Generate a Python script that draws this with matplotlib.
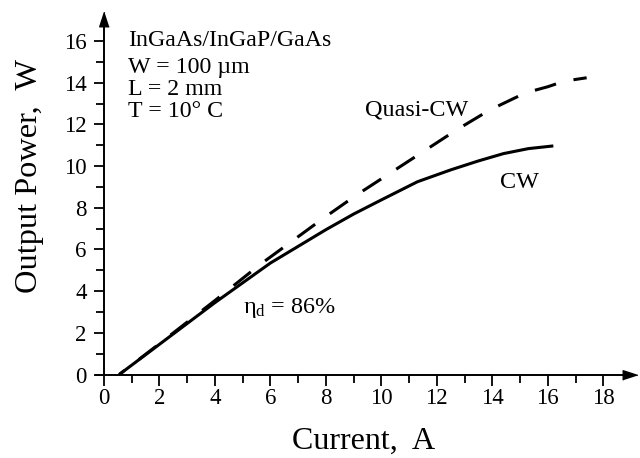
import matplotlib
matplotlib.use("Agg")
import matplotlib.pyplot as plt

plt.rcParams['font.family'] = ['Liberation Serif', 'DejaVu Serif']
plt.rcParams['mathtext.fontset'] = 'custom'
plt.rcParams['mathtext.rm'] = 'Liberation Serif'
plt.rcParams['mathtext.it'] = 'Liberation Serif:italic'

# CW curve (solid)
cw_current = [0.55, 2.0, 4.0, 6.0, 7.0, 8.0, 9.0, 10.0, 11.3, 12.5, 13.5, 14.4, 15.3, 16.2]
cw_power = [0.0, 1.45, 3.45, 5.35, 6.15, 6.95, 7.7, 8.38, 9.25, 9.82, 10.25, 10.6, 10.84, 10.97]

# quasi-CW curve (dashed)
qcw_current = [0.55, 2.0, 4.0, 5.6, 6.8, 7.9, 9.1, 10.3, 11.5, 12.7, 13.9, 15.2, 16.0, 16.6, 17.4]
qcw_power = [0.0, 1.48, 3.55, 5.25, 6.42, 7.49, 8.61, 9.65, 10.69, 11.73, 12.69, 13.52, 13.81, 14.08, 14.24]

x_ticks = list(range(0, 19, 2))
y_ticks = list(range(0, 17, 2))

info_lines = ["InGaAs/InGaP/GaAs", "W = 100 \u00b5m", "L = 2 mm", "T = 10\u00b0 C"]

fig = plt.figure(figsize=(6.4, 4.58), dpi=100)
ax = fig.add_axes([0.1495, 0.1823, 0.8356, 0.7762])

x_max = 18.98
y_max = 17.06
ax.set_xlim(-0.3, x_max)
ax.set_ylim(0, y_max)

lw = 2.2
ax.plot(cw_current, cw_power, color='black', lw=lw, solid_capstyle='butt')
ax.plot(qcw_current, qcw_power, color='black', lw=lw, linestyle=(5.0, (7.2, 5.9)))

for s in ['top', 'right']:
    ax.spines[s].set_visible(False)
ax.spines['left'].set_position(('data', 0))
ax.spines['bottom'].set_position(('data', 0))
ax.spines['left'].set_linewidth(1.4)
ax.spines['bottom'].set_linewidth(1.4)

# arrow heads
up = [(0, 1), (-0.65, -1), (0.65, -1)]
right = [(1, 0), (-1, 0.65), (-1, -0.65)]
ax.plot([0], [y_max], marker=up, ms=10.5, color='black', clip_on=False)
ax.plot([x_max], [0], marker=right, ms=10.5, color='black', clip_on=False)

ax.set_xticks(x_ticks)
ax.set_yticks(y_ticks)
ax.set_xticks([t for t in range(1, 18, 2)], minor=True)
ax.set_yticks([t for t in range(1, 16, 2)], minor=True)
ax.tick_params(axis='x', which='major', direction='out', length=7.9, width=1.3, pad=2, labelsize=16.5)
ax.tick_params(axis='x', which='minor', direction='out', length=5.8, width=1.3)
ax.tick_params(axis='y', which='major', direction='out', length=7.5, width=1.3, pad=5, labelsize=16.5)
ax.tick_params(axis='y', which='minor', direction='out', length=6.0, width=1.3)

ax.set_xlabel("Current,  A", fontsize=23)
ax.set_ylabel("Output Power,  W", fontsize=23.3)
ax.xaxis.set_label_coords(0.5, -0.148)
ax.yaxis.set_label_coords(-0.097, 0.557)

# parameter block
info_y = [15.76, 14.47, 13.41, 12.36]
for txt, yy in zip(info_lines, info_y):
    ax.text(0.865, yy, txt, fontsize=17.2, va='baseline', ha='left')

ax.text(9.41, 12.45, "Quasi-CW", fontsize=17.4, va='baseline', ha='left')
ax.text(14.28, 8.95, "CW", fontsize=17.4, va='baseline', ha='left')
ax.text(5.01, 2.95, r"$\mathrm{\eta_d}$ = 86%", fontsize=17.4, va='baseline', ha='left')

fig.savefig("out.png", dpi=100)
